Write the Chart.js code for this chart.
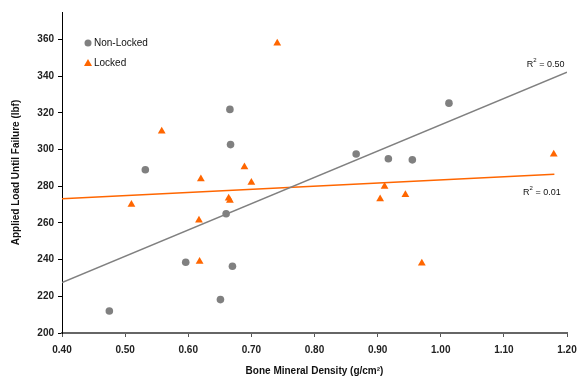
<!DOCTYPE html>
<html lang="en">
<head>
  <meta charset="UTF-8">
  <title>Applied Load vs Bone Mineral Density</title>
  <script src="https://cdn.jsdelivr.net/npm/chart.js"></script>
  <style>
    html, body { margin: 0; padding: 0; background: #fff; }
    #wrap { width: 581px; height: 377px; }
  </style>
</head>
<body>
<div id="wrap"><canvas id="chart"></canvas></div>

<script>
// values
const nonLockedX = [0.475, 0.532, 0.596, 0.651, 0.660, 0.670, 0.666, 0.667, 0.866, 0.917, 0.955, 1.013];
const nonLockedY = [212, 289, 238.6, 218.2, 265, 236.4, 321.9, 302.7, 297.6, 295, 294.4, 325.3];

const lockedX = [0.510, 0.558, 0.620, 0.617, 0.618, 0.689, 0.700, 0.664, 0.666, 0.741, 0.904, 0.911, 0.944, 0.970, 1.179];
const lockedY = [270, 310, 284, 261.4, 239, 290.5, 282, 273.5, 272.3, 358, 273, 279.8, 275.4, 238, 297.4];

// trend line ends (as drawn)
const trendNonLockedX = [0.40, 1.20];
const trendNonLockedY = [227.5, 342.2];
const trendLockedX = [0.40, 1.18];
const trendLockedY = [273.2, 286.5];

const xTicks = [0.4, 0.5, 0.6, 0.7, 0.8, 0.9, 1.0, 1.1, 1.2];
const yTicks = [200, 220, 240, 260, 280, 300, 320, 340, 360];

// R² labels, placed in data units
const r2Labels = [
  { text: '0.50', x: 1.196, y: 346.5 },
  { text: '0.01', x: 1.190, y: 276.5 }
];

const greyColor = '#808080';
const orangeColor = '#FF6600';
const fontFamily = 'Arial, "Liberation Sans", Helvetica, sans-serif';

function toPoints(xs, ys) {
  return xs.map((x, i) => ({ x: x, y: ys[i] }));
}

// legend and R² text drawn on top of the plot
const extras = {
  id: 'extras',
  afterDatasetsDraw(chart) {
    const ctx = chart.ctx;
    const xs = chart.scales.x;
    const ys = chart.scales.y;
    const area = chart.chartArea;
    ctx.save();

    // legend
    const lx = area.left + 26;
    const ly1 = area.top + 31;
    const ly2 = area.top + 51;
    ctx.fillStyle = greyColor;
    ctx.beginPath();
    ctx.arc(lx, ly1, 3.5, 0, Math.PI * 2);
    ctx.fill();
    ctx.fillStyle = orangeColor;
    ctx.beginPath();
    ctx.moveTo(lx, ly2 - 4);
    ctx.lineTo(lx + 4, ly2 + 3);
    ctx.lineTo(lx - 4, ly2 + 3);
    ctx.closePath();
    ctx.fill();

    ctx.fillStyle = '#111';
    ctx.font = '10px ' + fontFamily;
    ctx.textBaseline = 'middle';
    ctx.textAlign = 'left';
    ctx.fillText('Non-Locked', lx + 6, ly1);
    ctx.fillText('Locked', lx + 6, ly2);

    // R² labels
    r2Labels.forEach(l => {
      const px = xs.getPixelForValue(l.x);
      const py = ys.getPixelForValue(l.y);
      ctx.font = '9px ' + fontFamily;
      ctx.textAlign = 'right';
      const rest = ' = ' + l.text;
      const restW = ctx.measureText(rest).width;
      ctx.fillText(rest, px, py);
      ctx.font = '6px ' + fontFamily;
      const supW = ctx.measureText('2').width;
      ctx.fillText('2', px - restW, py - 4);
      ctx.font = '9px ' + fontFamily;
      ctx.fillText('R', px - restW - supW, py);
    });

    ctx.restore();
  }
};

new Chart(document.getElementById('chart'), {
  type: 'scatter',
  data: {
    datasets: [
      {
        label: 'Non-Locked',
        data: toPoints(nonLockedX, nonLockedY),
        pointStyle: 'circle',
        pointRadius: 3.8,
        pointBackgroundColor: greyColor,
        pointBorderColor: greyColor,
        pointBorderWidth: 0,
        order: 1
      },
      {
        label: 'Locked',
        data: toPoints(lockedX, lockedY),
        pointStyle: 'triangle',
        pointRadius: 4.5,
        pointBackgroundColor: orangeColor,
        pointBorderColor: orangeColor,
        pointBorderWidth: 0,
        order: 1
      },
      {
        label: 'trend non-locked',
        data: toPoints(trendNonLockedX, trendNonLockedY),
        showLine: true,
        borderColor: greyColor,
        borderWidth: 1.5,
        pointRadius: 0,
        order: 2
      },
      {
        label: 'trend locked',
        data: toPoints(trendLockedX, trendLockedY),
        showLine: true,
        borderColor: orangeColor,
        borderWidth: 1.5,
        pointRadius: 0,
        order: 2
      }
    ]
  },
  options: {
    responsive: true,
    maintainAspectRatio: false,
    animation: false,
    layout: { padding: { top: 12, right: 14, left: 0, bottom: 0 } },
    plugins: {
      legend: { display: false },
      tooltip: { enabled: false }
    },
    scales: {
      x: {
        type: 'linear',
        min: 0.4,
        max: 1.2,
        afterBuildTicks: axis => { axis.ticks = xTicks.map(v => ({ value: v })); },
        afterFit: scale => {
          scale.height = 44;
          scale.paddingLeft = 0;
          scale.paddingRight = 0;
        },
        grid: { drawOnChartArea: false, tickLength: 4, color: '#555', tickWidth: 1 },
        border: { color: '#666', width: 2 },
        ticks: {
          padding: 7,
          color: '#222',
          font: { family: fontFamily, size: 10, weight: 'bold' },
          callback: v => v.toFixed(2)
        },
        title: {
          display: true,
          text: 'Bone Mineral Density (g/cm\u00B2)',
          color: '#111',
          font: { family: fontFamily, size: 10, weight: 'bold' },
          padding: { top: 6, bottom: 0 }
        }
      },
      y: {
        type: 'linear',
        min: 200,
        max: 375,
        afterBuildTicks: axis => { axis.ticks = yTicks.map(v => ({ value: v })); },
        afterFit: scale => {
          scale.width = 62;
          scale.paddingTop = 0;
          scale.paddingBottom = 0;
        },
        grid: { drawOnChartArea: false, tickLength: 4, color: '#000', tickWidth: 1 },
        border: { color: '#000', width: 1 },
        ticks: {
          padding: 4,
          color: '#222',
          font: { family: fontFamily, size: 10, weight: 'bold' }
        },
        title: {
          display: true,
          text: 'Applied Load Until Failure (lbf)',
          color: '#111',
          font: { family: fontFamily, size: 10, weight: 'bold' },
          padding: { top: 10, bottom: 0 }
        }
      }
    }
  },
  plugins: [extras]
});
</script>
</body>
</html>
